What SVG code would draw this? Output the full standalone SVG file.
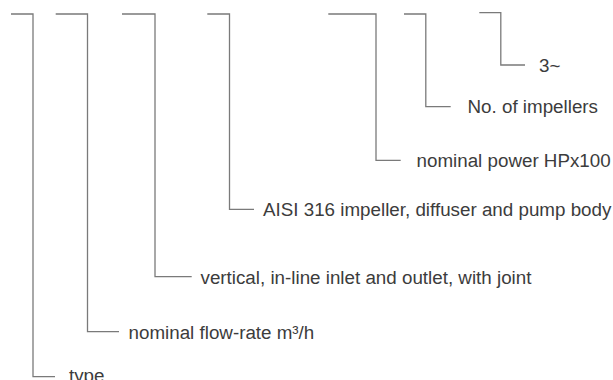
<svg xmlns="http://www.w3.org/2000/svg" width="613" height="380" viewBox="0 0 613 380">
<style>
.c{fill:none;stroke:#7a7a7a;stroke-width:1.3}
.t{font-family:"Liberation Sans",Arial,sans-serif;font-size:18.8px;fill:#3c3c3c}
</style>
<rect width="613" height="380" fill="#ffffff"/>
<g id="connectors">
<polyline class="c" points="11,14 33,14 33,376.7 55,376.7"/>
<polyline class="c" points="55.7,14 87.5,14 87.5,331.7 119,331.7"/>
<polyline class="c" points="122,14 155,14 155,276.7 191.7,276.7"/>
<polyline class="c" points="207.3,14 229.5,14 229.5,209.3 254,209.3"/>
<polyline class="c" points="328.3,14 376,14 376,160.3 400.7,160.3"/>
<polyline class="c" points="404,14 425.8,14 425.8,106.7 450.7,106.7"/>
<polyline class="c" points="479.3,12.7 500.8,12.7 500.8,65 525,65"/>
</g>
<g id="label-3phase"><text class="t" x="539" y="71.5">3~</text></g>
<g id="label-impellers"><text class="t" x="467.5" y="113">No. of impellers</text></g>
<g id="label-power"><text class="t" x="416.5" y="167">nominal power HPx100</text></g>
<g id="label-aisi"><text class="t" x="263" y="216">AISI 316 impeller, diffuser and pump body</text></g>
<g id="label-vertical"><text class="t" x="200.5" y="283.5">vertical, in-line inlet and outlet, with joint</text></g>
<g id="label-flowrate"><text class="t" x="128.5" y="338.5">nominal flow-rate m³/h</text></g>
<g id="label-type"><text class="t" x="69" y="382">type</text></g>
</svg>
